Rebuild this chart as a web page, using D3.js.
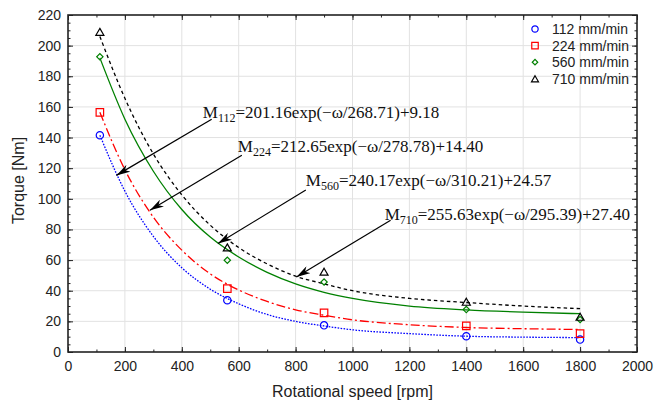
<!DOCTYPE html>
<html>
<head>
<meta charset="utf-8">
<script src="https://cdn.jsdelivr.net/npm/d3@7"></script>
<style>
  body { margin: 0; background: #fff; }
  svg { display: block; }
</style>
</head>
<body>
<div id="chart"></div>
<script>
// measured points
const speeds = [112, 560, 900, 1400, 1800];
const torque112 = [141.5, 33.8, 17.4, 10.3, 8.1];
const torque224 = [156.4, 41.4, 25.5, 17.0, 12.0];
const torque560 = [192.7, 59.9, 45.7, 27.7, 21.2];
const torque710 = [208.9, 68.2, 52.3, 32.7, 22.9];

// fitted curves
const fitSpeeds = [112, 200, 300, 400, 500, 600, 700, 800, 900, 1000, 1200, 1400, 1600, 1800];
const fit112 = [141.5, 105, 75.5, 55, 41, 31.5, 24.5, 20, 17, 14.5, 12, 10.3, 9.7, 9.4];
const fit224 = [156.5, 119, 88, 66.5, 51, 40.5, 33, 27.5, 24, 21, 17.8, 16, 15.2, 14.7];
const fit560 = [192, 152, 118, 93, 75, 62, 52, 44.5, 39, 35, 30, 27.5, 26, 25];
const fit710 = [206, 165.6, 129.3, 102.6, 82.8, 68.2, 57.5, 49.5, 44.5, 40, 35, 32.3, 30, 28.3];

const seriesNames = ["112 mm/min", "224 mm/min", "560 mm/min", "710 mm/min"];
const xTicks = d3.range(0, 2001, 200);
const yTicks = d3.range(0, 221, 20);

// equation annotations: subscript, text, text anchor [rpm, Nm], arrow tail, arrow tip
const eqSubs = ["112", "224", "560", "710"];
const eqTexts = ["=201.16exp(\u2212\u03c9/268.71)+9.18", "=212.65exp(\u2212\u03c9/278.78)+14.40",
                 "=240.17exp(\u2212\u03c9/310.21)+24.57", "=255.63exp(\u2212\u03c9/295.39)+27.40"];
const eqPos = [[474, 152.7], [597, 130.5], [836, 108.3], [1113, 86]];
const arrowTail = [[505, 152], [611, 128.5], [836, 105.7], [1134, 86]];
const arrowTip = [[170, 115.3], [288, 92.5], [527, 70.8], [803, 49]];

const width = 668, height = 403;
const margin = { top: 15, right: 31, bottom: 51, left: 68 };

const svg = d3.select("#chart").append("svg")
  .attr("width", width).attr("height", height)
  .style("font-family", "Liberation Sans, Arial, sans-serif");

svg.append("rect").attr("width", width).attr("height", height).attr("fill", "#fff");

const x = d3.scaleLinear().domain([0, 2000]).range([margin.left, width - margin.right]);
const y = d3.scaleLinear().domain([0, 220]).range([height - margin.bottom, margin.top]);

// grid
svg.append("g").selectAll("line.gx").data(xTicks.slice(1, -1)).join("line")
  .attr("x1", d => x(d)).attr("x2", d => x(d))
  .attr("y1", y(0)).attr("y2", y(220))
  .attr("stroke", "#e2e2e2").attr("stroke-width", 1);
svg.append("g").selectAll("line.gy").data(yTicks.slice(1, -1)).join("line")
  .attr("y1", d => y(d)).attr("y2", d => y(d))
  .attr("x1", x(0)).attr("x2", x(2000))
  .attr("stroke", "#e2e2e2").attr("stroke-width", 1);

// axes with inward ticks
const xMinor = d3.range(0, 2001, 100);
const yMinor = d3.range(0, 221, 5);
const axG = svg.append("g").attr("stroke", "#222");
axG.append("g").attr("transform", `translate(0,${y(0)})`)
  .call(d3.axisBottom(x).tickValues(xMinor).tickSize(-2.5).tickFormat(""))
  .call(g => g.select(".domain").remove());
axG.append("g").attr("transform", `translate(0,${y(0)})`)
  .call(d3.axisBottom(x).tickValues(xTicks).tickSize(-5).tickPadding(9).tickFormat(d3.format("d")))
  .call(g => g.select(".domain").remove())
  .call(g => g.selectAll("text").attr("font-size", 14).attr("fill", "#222").attr("stroke", "none"));
axG.append("g").attr("transform", `translate(0,${y(220)})`)
  .call(d3.axisTop(x).tickValues(xMinor).tickSize(-2.5).tickFormat(""))
  .call(g => g.select(".domain").remove());
axG.append("g").attr("transform", `translate(0,${y(220)})`)
  .call(d3.axisTop(x).tickValues(xTicks).tickSize(-5).tickFormat(""))
  .call(g => g.select(".domain").remove());
axG.append("g").attr("transform", `translate(${x(0)},0)`)
  .call(d3.axisLeft(y).tickValues(yMinor).tickSize(-2.5).tickFormat(""))
  .call(g => g.select(".domain").remove());
axG.append("g").attr("transform", `translate(${x(0)},0)`)
  .call(d3.axisLeft(y).tickValues(yTicks).tickSize(-5).tickPadding(7).tickFormat(d3.format("d")))
  .call(g => g.select(".domain").remove())
  .call(g => g.selectAll("text").attr("font-size", 14).attr("fill", "#222").attr("stroke", "none"));
axG.append("g").attr("transform", `translate(${x(2000)},0)`)
  .call(d3.axisRight(y).tickValues(yMinor).tickSize(-2.5).tickFormat(""))
  .call(g => g.select(".domain").remove());
axG.append("g").attr("transform", `translate(${x(2000)},0)`)
  .call(d3.axisRight(y).tickValues(yTicks).tickSize(-5).tickFormat(""))
  .call(g => g.select(".domain").remove());
svg.selectAll(".tick line").attr("stroke", "#222");

svg.append("rect")
  .attr("x", x(0)).attr("y", y(220))
  .attr("width", x(2000) - x(0)).attr("height", y(0) - y(220))
  .attr("fill", "none").attr("stroke", "#222").attr("stroke-width", 1.6);

// axis titles
svg.append("text").attr("x", (x(0) + x(2000)) / 2).attr("y", 397)
  .attr("text-anchor", "middle").attr("font-size", 16).attr("fill", "#222")
  .text("Rotational speed [rpm]");
svg.append("text").attr("transform", `translate(24,${(y(0) + y(220)) / 2 - 3}) rotate(-90)`)
  .attr("text-anchor", "middle").attr("font-size", 16).attr("fill", "#222")
  .text("Torque [Nm]");

// curves
const colors = ["#0000ff", "#ff0000", "#008000", "#000000"];
const dashes = ["1.6,1.4", "9,3,2,3", null, "3.5,3"];
const fits = [fit112, fit224, fit560, fit710];
const points = [torque112, torque224, torque560, torque710];
const line = d3.line().x(d => x(d[0])).y(d => y(d[1])).curve(d3.curveMonotoneX);

fits.forEach((f, i) => {
  svg.append("path")
    .datum(fitSpeeds.map((s, j) => [s, f[j]]))
    .attr("d", line)
    .attr("fill", "none")
    .attr("stroke", colors[i])
    .attr("stroke-width", 1.3)
    .attr("stroke-dasharray", dashes[i]);
});

// markers (diamond = rotated square)
const shapes = [d3.symbolCircle, d3.symbolSquare, d3.symbolSquare, d3.symbolTriangle];
const rotations = [0, 0, 45, 0];
const sizes = [42, 56, 20, 28];
function markerTransform(i, px, py) {
  return `translate(${px},${py + (i === 3 ? 1 : 0)}) rotate(${rotations[i]})`;
}
points.forEach((p, i) => {
  svg.append("g").selectAll("path")
    .data(speeds.map((s, j) => [s, p[j]])).join("path")
    .attr("transform", d => markerTransform(i, x(d[0]), y(d[1])))
    .attr("d", d3.symbol().type(shapes[i]).size(sizes[i]))
    .attr("fill", "none")
    .attr("stroke", colors[i])
    .attr("stroke-width", 1.2);
});

// legend
const legend = svg.append("g");
seriesNames.forEach((name, i) => {
  const ly = 29 + i * 16.6;
  legend.append("path")
    .attr("transform", markerTransform(i, 535, ly))
    .attr("d", d3.symbol().type(shapes[i]).size(sizes[i] * 0.75))
    .attr("fill", "none").attr("stroke", colors[i]).attr("stroke-width", 1.2);
  legend.append("text").attr("x", 552).attr("y", ly + 5)
    .attr("font-size", 14).attr("fill", "#222").text(name);
});

// equation annotations
svg.append("defs").append("marker")
  .attr("id", "arrow").attr("markerUnits", "userSpaceOnUse")
  .attr("viewBox", "0 0 14 8").attr("refX", 14).attr("refY", 4)
  .attr("markerWidth", 14).attr("markerHeight", 8).attr("orient", "auto")
  .append("path").attr("d", "M0,0 L14,4 L0,8 L4,4 Z").attr("fill", "#000");

eqSubs.forEach((sub, i) => {
  svg.append("line")
    .attr("x1", x(arrowTail[i][0])).attr("y1", y(arrowTail[i][1]))
    .attr("x2", x(arrowTip[i][0])).attr("y2", y(arrowTip[i][1]))
    .attr("stroke", "#000").attr("stroke-width", 1.2)
    .attr("marker-end", "url(#arrow)");
  const t = svg.append("text")
    .attr("x", x(eqPos[i][0])).attr("y", y(eqPos[i][1]))
    .attr("font-family", "Liberation Serif, Times New Roman, serif")
    .attr("font-size", 17).attr("fill", "#111");
  t.append("tspan").text("M");
  t.append("tspan").attr("dy", 4).attr("font-size", 12).text(sub);
  t.append("tspan").attr("dy", -4).text(eqTexts[i]);
});
</script>
</body>
</html>
